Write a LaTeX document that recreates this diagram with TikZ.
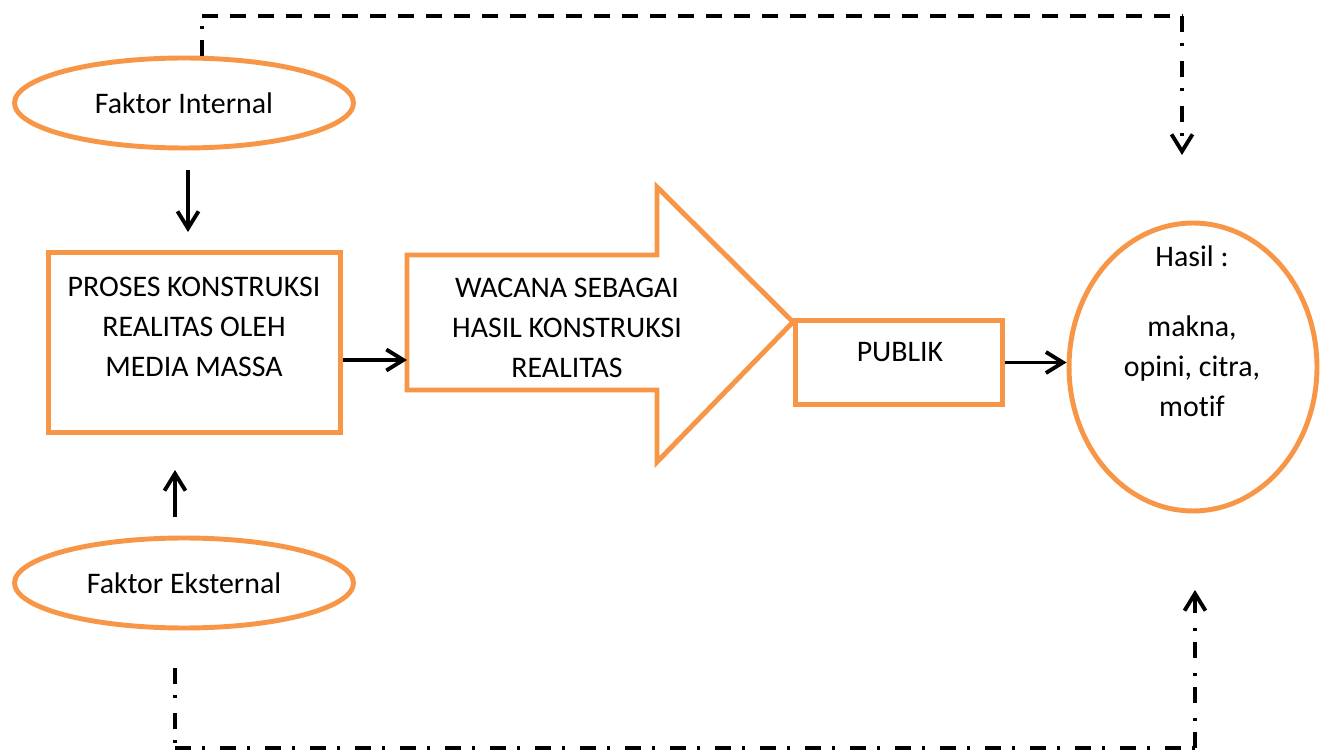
\documentclass[tikz,border=0pt]{standalone}
\usepackage{fontspec}
\setmainfont{Carlito}[Ligatures=NoCommon]
\usetikzlibrary{shapes.geometric, arrows.meta, positioning}
\definecolor{boxorange}{RGB}{247,150,70}

\begin{document}
\begin{tikzpicture}[
    x=0.02cm,
    y=-0.02cm,
    font=\fontsize{17}{22.7}\selectfont,
    factor node/.style={ellipse,draw=boxorange,line width=2.8pt,minimum width=6.78cm,minimum height=1.8cm},
    box node/.style={rectangle,draw=boxorange,line width=2.8pt,inner sep=0pt},
    text node/.style={align=center,inner sep=0pt},
    arrow/.style={-{Straight Barb[length=3.4mm,width=4.2mm]},line width=2.2pt},
    dash line/.style={line width=2.2pt,dash pattern=on 0.32cm off 0.24cm},
    dashdot line/.style={line width=2.2pt,dash pattern=on 0.32cm off 0.22cm on 0.06cm off 0.3cm}
]
\useasboundingbox (0,0) rectangle (1329,756);

\node[factor node] (internal) at (184,103) {Faktor Internal};
\node[factor node] (eksternal) at (184,583) {Faktor Eksternal};

\node[box node,minimum width=5.84cm,minimum height=3.6cm] (proses) at (194.5,342.5) {};
\node[text node] (prosesText) at (194,327) {PROSES KONSTRUKSI\\REALITAS OLEH\\MEDIA MASSA};

\draw[boxorange,line width=2.8pt] (407,255) -- (657,255) -- (657,187) -- (793,322)
    -- (657,462) -- (657,390) -- (407,390) -- cycle;
\node[text node] (wacana) at (567,328) {WACANA SEBAGAI\\HASIL KONSTRUKSI\\REALITAS};
\coordinate (wacanaIn) at (407,360);

\node[box node,minimum width=4.14cm,minimum height=1.68cm] (publik) at (899,362.5) {};
\node[text node] (publikText) at (900,352) {PUBLIK};

\node[ellipse,draw=boxorange,line width=2.8pt,minimum width=4.96cm,minimum height=5.76cm] (hasil) at (1193,367) {};
\node[text node] (hasilTitle) at (1192,256) {Hasil :};
\node[text node] (hasilText) at (1192,366) {makna,\\opini, citra,\\motif};

\coordinate (downStart) at (188,170);
\coordinate (downEnd) at (188,232);
\coordinate (upStart) at (175,517);
\coordinate (upEnd) at (175,470);
\draw[arrow] (downStart) -- (downEnd);
\draw[arrow] (upStart) -- (upEnd);
\draw[arrow] (proses.east |- wacanaIn) -- (wacanaIn);
\draw[arrow] (publik.east) -- (hasil.west |- publik.east);

\coordinate (topLeft) at (202,16);
\coordinate (topRight) at (1182,16);
\coordinate (topEnd) at (1182,155);
\draw[dashdot line] (internal.north -| topLeft) -- (topLeft);
\draw[dash line] (topLeft) -- (topRight);
\draw[dashdot line,arrow] (topRight) -- (topEnd);

\coordinate (botStart) at (175,668);
\coordinate (botLeft) at (175,748);
\coordinate (botRight) at (1195,748);
\coordinate (botEnd) at (1195,590);
\draw[dashdot line] (botStart) -- (botLeft);
\draw[dashdot line] (botLeft) -- (botRight);
\draw[dashdot line,arrow] (botRight) -- (botEnd);

\end{tikzpicture}
\end{document}
